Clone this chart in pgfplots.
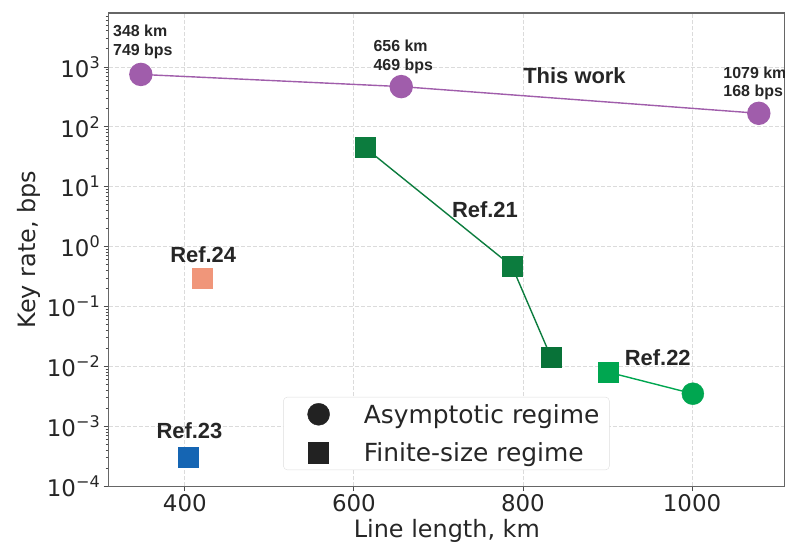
\documentclass[border=0pt]{standalone}
\usepackage{fontspec}
\setmainfont{DejaVu Sans}
\newfontfamily\annfont{Liberation Sans}
\usepackage{pgfplots}
\pgfplotsset{compat=1.18}

\definecolor{work}{HTML}{A05DAB}
\definecolor{refA}{HTML}{0C7C3E}
\definecolor{refAd}{HTML}{087238}
\definecolor{refB}{HTML}{00A650}
\definecolor{refC}{HTML}{F0967A}
\definecolor{refD}{HTML}{1565B3}
\definecolor{legk}{HTML}{222222}

\begin{document}
\begin{tikzpicture}
\begin{axis}[
    name=ax,
    scale only axis,
    width=676bp, height=473bp,
    ymode=log,
    xmin=310, xmax=1110,
    ymin=1e-4, ymax=7943,
    xtick={400,600,800,1000},
    ytick={1e-4,1e-3,1e-2,1e-1,1,10,100,1000},
    yticklabels={10\textsuperscript{−4},10\textsuperscript{−3},10\textsuperscript{−2},10\textsuperscript{−1},10\textsuperscript{0},10\textsuperscript{1},10\textsuperscript{2},10\textsuperscript{3}},
    minor ytick={2e-4,3e-4,4e-4,5e-4,6e-4,7e-4,8e-4,9e-4,
                 2e-3,3e-3,4e-3,5e-3,6e-3,7e-3,8e-3,9e-3,
                 2e-2,3e-2,4e-2,5e-2,6e-2,7e-2,8e-2,9e-2,
                 0.2,0.3,0.4,0.5,0.6,0.7,0.8,0.9,
                 2,3,4,5,6,7,8,9,
                 20,30,40,50,60,70,80,90,
                 200,300,400,500,600,700,800,900,
                 2000,3000,4000,5000,6000,7000},
    /pgf/number format/assume math mode=true,
    /pgf/number format/1000 sep={},
    tick label style={font=\fontsize{23}{27}\selectfont, text=black!85},
    xlabel={Line length, km},
    ylabel={Key rate, bps},
    label style={font=\fontsize{24}{28}\selectfont, text=black!85},
    tick pos=left,
    tick align=outside,
    major tick length=5bp,
    minor tick length=3bp,
    tick style={black!70, line width=0.8bp},
    axis line style={black!60, line width=1.1bp},
    grid=major,
    major grid style={black!14, dash pattern=on 4bp off 2bp, line width=0.8bp},
    clip=false,
    legend style={at={(0.258,0.034)}, anchor=south west,
        font=\fontsize{25}{29}\selectfont, text=black!85,
        draw=black!13, rounded corners=4bp, fill=white,
        inner xsep=8bp, inner ysep=5bp, row sep=14bp},
    legend cell align=left,
    legend image code/.code={\path (0bp,0bp) (70bp,0bp); \draw[#1] plot coordinates {(27bp,0bp)};},
]
% legend entries only
\addlegendimage{only marks, mark=*, mark size=11bp, color=legk}
\addlegendentry{Asymptotic regime}
\addlegendimage{only marks, mark=square*, mark size=10bp, color=legk, mark options={rounded corners=2bp}}
\addlegendentry{Finite-size regime}

% This work
\addplot[work, line width=1.4bp, mark=*, mark size=11bp, forget plot]
  coordinates {(348,749) (656,469) (1079,168)};

% Ref.21
\addplot[refA, line width=1.4bp, forget plot]
  coordinates {(613,45) (787,0.47) (833,0.0145)};
\addplot[only marks, mark=square*, mark size=10bp, color=refA, mark options={rounded corners=2bp}, forget plot]
  coordinates {(613,45) (787,0.47)};
\addplot[only marks, mark=square*, mark size=10bp, color=refAd, mark options={rounded corners=2bp}, forget plot]
  coordinates {(833,0.0145)};

% Ref.22
\addplot[refB, line width=1.4bp, forget plot]
  coordinates {(901,0.008) (1001,0.0035)};
\addplot[only marks, mark=square*, mark size=10bp, color=refB, mark options={rounded corners=2bp}, forget plot]
  coordinates {(901,0.008)};
\addplot[only marks, mark=*, mark size=11bp, color=refB, forget plot]
  coordinates {(1001,0.0035)};

% Ref.24
\addplot[only marks, mark=square*, mark size=10bp, color=refC, mark options={rounded corners=2bp}, forget plot]
  coordinates {(420,0.3)};

% Ref.23
\addplot[only marks, mark=square*, mark size=10bp, color=refD, mark options={rounded corners=2bp}, forget plot]
  coordinates {(404,3.0e-4)};

% annotations
\begin{scope}[every node/.style={text=black!85, inner sep=0pt}]
\node[font=\annfont\bfseries\fontsize{16}{19}\selectfont, align=left, anchor=west] at (axis cs:315,2661) {348 km\\749 bps};
\node[font=\annfont\bfseries\fontsize{16}{19}\selectfont, align=left, anchor=west] at (axis cs:623,1496) {656 km\\469 bps};
\node[font=\annfont\bfseries\fontsize{16}{19}\selectfont, align=left, anchor=west] at (axis cs:1037,531) {1079 km\\168 bps};
\node[font=\annfont\bfseries\fontsize{22}{26}\selectfont] at (axis cs:861,708) {This work};
\node[font=\annfont\bfseries\fontsize{22}{26}\selectfont] at (axis cs:755,4.14) {Ref.21};
\node[font=\annfont\bfseries\fontsize{22}{26}\selectfont] at (axis cs:421.7,0.736) {Ref.24};
\node[font=\annfont\bfseries\fontsize{22}{26}\selectfont] at (axis cs:405.5,8.4e-4) {Ref.23};
\node[font=\annfont\bfseries\fontsize{22}{26}\selectfont] at (axis cs:959.5,0.0141) {Ref.22};
\end{scope}
\end{axis}
\pgfresetboundingbox
\path ([shift={(-108.7bp,-62bp)}]ax.south west) rectangle ([shift={(0bp,13bp)}]ax.north east);
\end{tikzpicture}
\end{document}
